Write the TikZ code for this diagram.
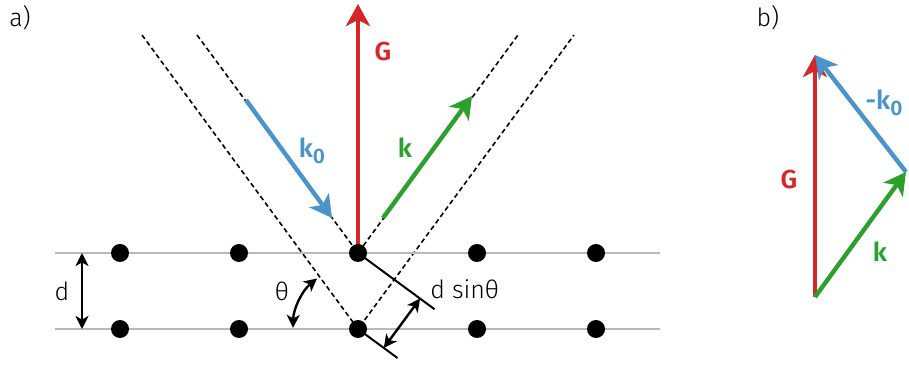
\documentclass[tikz,border=0pt]{standalone}
\usepackage{fontspec}
\setmainfont{Fira Sans}[UprightFont=* Light, BoldFont=* SemiBold]
\usetikzlibrary{arrows.meta,calc}
\definecolor{cred}{RGB}{214,39,40}
\definecolor{cblue}{RGB}{74,148,204}
\definecolor{cgreen}{RGB}{44,160,44}
\definecolor{cgray}{RGB}{185,185,185}
\tikzset{
  lattice/.style={cgray, line width=1.3pt},
  beam/.style={dash pattern=on 2.4pt off 1.6pt, line width=0.8pt},
  vec/.style={line width=2.2pt, -{Stealth[length=11pt,width=12pt,inset=3pt]}},
  dim/.style={line width=1.2pt, {Stealth[length=6.5pt,width=6.5pt,inset=1.8pt]}-{Stealth[length=6.5pt,width=6.5pt,inset=1.8pt]}},
  perp/.style={line width=1pt},
  dot/.style={circle, fill=black, inner sep=0pt, minimum size=9pt},
  lbl/.style={font=\fontsize{12.5}{14}\selectfont, inner sep=1pt},
  blbl/.style={font=\fontsize{13}{15}\selectfont\bfseries, inner sep=1pt},
}
\newcommand{\subz}{\raisebox{-0.4ex}{\fontsize{10.5}{11}\selectfont 0}}
\begin{document}
\begin{tikzpicture}[x=0.5pt,y=-0.5pt]
\useasboundingbox (0,0) rectangle (909,367);
% lattice
\coordinate (T) at (358,253);
\coordinate (B) at (358,329);
\coordinate (l1a) at (55,253); \coordinate (l1b) at (660,253);
\coordinate (l2a) at (55,329); \coordinate (l2b) at (660,329);
% beams
\coordinate (in1) at (142,35);
\coordinate (in2) at (197,35);
\coordinate (out1) at (518,35);
\coordinate (out2) at (574,35);
\draw[beam] (in1) -- (B) -- (out2);
\draw[beam] (in2) -- (T) -- (out1);
\draw[lattice] (l1a) -- (l1b);
\draw[lattice] (l2a) -- (l2b);
% perpendicular lines
\coordinate (pT) at ($(T)+(95*0.806,95*0.592)$);
\coordinate (pB) at ($(B)+(49*0.806,49*0.592)$);
\draw[perp] (T) -- (pT);
\draw[perp] (B) -- (pB);
\coordinate (s1) at ($(B)+(32*0.806,32*0.592)$);
\coordinate (s2) at ($(s1)+(61.3*0.592,-61.3*0.806)$);
\draw[dim] (s1) -- (s2);
% d
\coordinate (d1) at (82,253); \coordinate (d2) at (82,329);
\draw[dim] (d1) -- (d2);
% theta arc
\draw[dim] ($(B)+(181:65)$) arc[start angle=181,end angle=231,radius=65];
% G vector
\coordinate (Gtip) at (358,4);
\draw[vec, cred] (T) -- (Gtip);
% k0 and k
\coordinate (k0a) at (246,100); \coordinate (k0b) at (332,218);
\draw[vec, cblue] (k0a) -- (k0b);
\coordinate (ka) at (383,218); \coordinate (kb) at (472,96);
\draw[vec, cgreen] (ka) -- (kb);
% dots
\foreach \x/\n in {120/1,239/2,358/3,477/4,596/5}{
  \node[dot] (t\n) at (\x,253) {};
  \node[dot] (b\n) at (\x,329) {};
}
% labels a
\node[lbl] (la) at (20,18) {a)};
\node[blbl, text=cred] (lG) at (383,52) {G};
\node[blbl, text=cblue] (lk0) at (312,151) {k\subz};
\node[blbl, text=cgreen] (lk) at (405,148) {k};
\node[lbl] (ld) at (62,291) {d};
\node[lbl] (lth) at (282,291) {θ};
\node[lbl, anchor=west] (lds) at (428,289) {d sinθ};
% panel b
\node[lbl] (lb) at (768,18) {b)};
\coordinate (O) at (815,297);
\coordinate (Q) at (906,172);
\coordinate (P) at (815,55);
\draw[vec, cred] (O) -- (P);
\draw[vec, cblue] (Q) -- (P);
\draw[vec, cgreen] (O) -- (Q);
\node[blbl, text=cred] (bG) at (789,180) {G};
\node[blbl, text=cblue] (bk0) at (884,103) {-k\subz};
\node[blbl, text=cgreen] (bk) at (880,252) {k};
\end{tikzpicture}
\end{document}
